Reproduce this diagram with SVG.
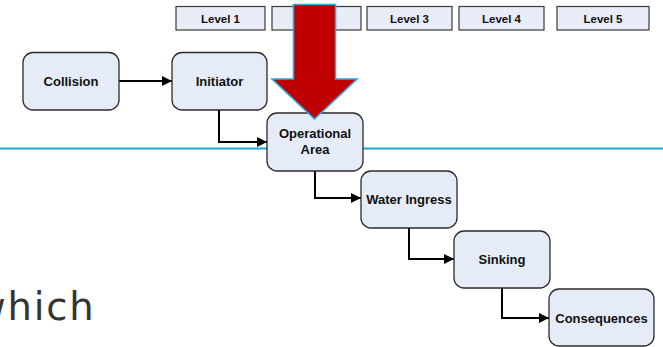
<svg xmlns="http://www.w3.org/2000/svg" width="663" height="347" viewBox="0 0 663 347">
<defs>
<style>
.lvl{fill:#e8ecf6;stroke:#3a3a3a;stroke-width:1.2}
.lt{font-family:"Liberation Sans",Arial,sans-serif;font-weight:bold;font-size:11.5px;fill:#111;text-anchor:middle}
.nd{fill:#e6ecf7;stroke:#2b2b2b;stroke-width:1.3}
.nt{font-family:"Liberation Sans",Arial,sans-serif;font-weight:bold;font-size:13px;fill:#111;text-anchor:middle}
.cn{fill:none;stroke:#000;stroke-width:2;marker-end:url(#ah)}
</style>
<marker id="ah" viewBox="0 0 10 10" refX="10" refY="5" markerWidth="10" markerHeight="10" markerUnits="userSpaceOnUse" orient="auto">
<path d="M0,0 L10,5 L0,10 z" fill="#000"/>
</marker>
</defs>
<rect width="663" height="347" fill="#fff"/>
<g id="levels">
<g id="level1"><rect class="lvl" x="176" y="6.5" width="89" height="23.5"/><text class="lt" x="220.5" y="22.5">Level 1</text></g>
<g id="level2"><rect class="lvl" x="272" y="6.5" width="89" height="23.5"/><text class="lt" x="316.5" y="22.5">Level 2</text></g>
<g id="level3"><rect class="lvl" x="367" y="6.5" width="85" height="23.5"/><text class="lt" x="409.5" y="22.5">Level 3</text></g>
<g id="level4"><rect class="lvl" x="459" y="6.5" width="85" height="23.5"/><text class="lt" x="501.5" y="22.5">Level 4</text></g>
<g id="level5"><rect class="lvl" x="557" y="6.5" width="92" height="23.5"/><text class="lt" x="603" y="22.5">Level 5</text></g>
</g>
<line x1="0" y1="148.5" x2="663" y2="148.5" stroke="#1ea0dc" stroke-width="2.2"/>
<g id="connectors">
<path class="cn" d="M119,81 H172"/>
<path class="cn" d="M219,110 V142 H267"/>
<path class="cn" d="M315,171 V198 H361"/>
<path class="cn" d="M409,228 V259 H454"/>
<path class="cn" d="M502,288 V318 H549"/>
</g>
<g id="collision"><rect class="nd" x="23" y="52.5" width="96" height="57.5" rx="10"/><text class="nt" x="71" y="86">Collision</text></g>
<g id="initiator"><rect class="nd" x="172" y="52.5" width="95" height="57.5" rx="10"/><text class="nt" x="219.5" y="86">Initiator</text></g>
<g id="operational"><rect class="nd" x="267" y="113" width="96" height="58" rx="10"/><text class="nt" x="315" y="138">Operational</text><text class="nt" x="315" y="154">Area</text></g>
<g id="water"><rect class="nd" x="361" y="171" width="96" height="57" rx="10"/><text class="nt" x="409" y="204">Water Ingress</text></g>
<g id="sinking"><rect class="nd" x="454" y="231" width="96" height="57" rx="10"/><text class="nt" x="502" y="264">Sinking</text></g>
<g id="consequences"><rect class="nd" x="549" y="289" width="105" height="57" rx="10"/><text class="nt" x="601.5" y="323">Consequences</text></g>
<g id="red-arrow"><polygon points="293.5,4.5 335.5,4.5 335.5,79 357,79 314.5,119 272,79 293.5,79" fill="#c00000" stroke="#29aae2" stroke-width="1.6" stroke-linejoin="miter"/></g>
<text x="-25.8" y="320" font-family="DejaVu Sans,Verdana,sans-serif" font-size="38.5" letter-spacing="1.8" fill="#333">which</text>
</svg>
